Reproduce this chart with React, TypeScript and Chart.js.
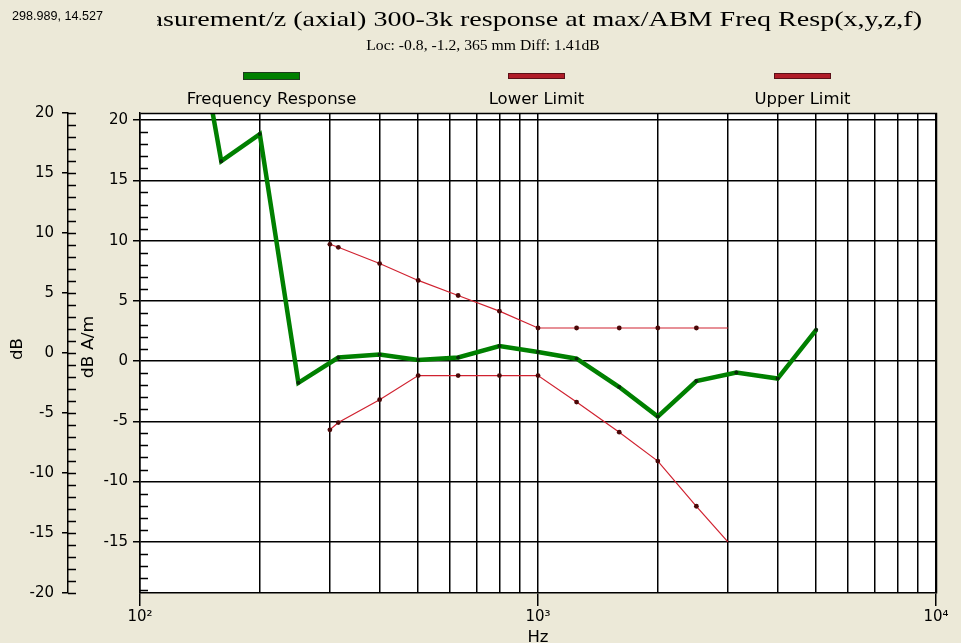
import React, { useEffect, useRef } from 'react';
import { Chart, registerables } from 'chart.js';

Chart.register(...registerables);

// ---------- data ----------
const responseFreqs = [125, 160, 200, 250, 315, 400, 500, 630, 800, 1000, 1250, 1600, 2000, 2500, 3150, 4000, 5000];
const responseDb = [36.5, 16.6, 18.85, -1.8, 0.3, 0.55, 0.1, 0.3, 1.25, 0.75, 0.2, -2.15, -4.6, -1.65, -0.95, -1.45, 2.6];

const limitFreqs = [300, 315, 400, 500, 630, 800, 1000, 1250, 1600, 2000, 2500, 3000];
const lowerLimitDb = [-5.7, -5.1, -3.2, -1.2, -1.2, -1.2, -1.2, -3.4, -5.9, -8.3, -12.05, -15];
const upperLimitDb = [9.7, 9.45, 8.1, 6.7, 5.45, 4.15, 2.75, 2.75, 2.75, 2.75, 2.75, 2.75];

const xGridFreqs = [100, 200, 300, 400, 500, 600, 700, 800, 900, 1000, 2000, 3000, 4000, 5000, 6000, 7000, 8000, 9000, 10000];
const xTickLabels: Record<number, string> = { 100: '10²', 1000: '10³', 10000: '10⁴' };
const yInnerTicks = [-19, -18, -17, -16, -15, -14, -13, -12, -11, -10, -9, -8, -7, -6, -5, -4, -3, -2, -1, 0, 1, 2, 3, 4, 5, 6, 7, 8, 9, 10, 11, 12, 13, 14, 15, 16, 17, 18, 19, 20];
const yOuterTicks = [-20, ...yInnerTicks];

const legendLabels = ['Frequency Response', 'Lower Limit', 'Upper Limit'];
const titleText = 'Measurement/z (axial) 300-3k response at max/ABM Freq Resp(x,y,z,f)';
const titleVisible = 'surement/z (axial) 300-3k response at max/ABM Freq Resp(x,y,z,f)';
const subtitleText = 'Loc: -0.8, -1.2, 365 mm Diff: 1.41dB';
const cursorText = '298.989, 14.527';
const xTitle = 'Hz';
const yOuterTitle = 'dB';
const yInnerTitle = 'dB A/m';

// ---------- style ----------
const BG = '#ECE9D8';
const GREEN = '#008000';
const RED = '#d02230';
const SANS = '"DejaVu Sans", sans-serif';
const SERIF = '"Liberation Serif", "Times New Roman", serif';
const GRID_W = 1.5;

const isMajor = (v: number) => Math.abs(v % 5) < 1e-9;

function drawText(ctx: CanvasRenderingContext2D, text: string, x: number, y: number, font: string, align: CanvasTextAlign, sx = 1, rot = 0, baseline: CanvasTextBaseline = 'alphabetic') {
  ctx.save();
  ctx.translate(x, y);
  if (rot) ctx.rotate(rot);
  ctx.scale(sx, 1);
  ctx.font = font;
  ctx.textAlign = align;
  ctx.textBaseline = baseline;
  ctx.fillStyle = '#000';
  ctx.fillText(text, 0, 0);
  ctx.restore();
}

const decorPlugin = {
  id: 'decor',
  beforeDraw(chart: any) {
    const { ctx, chartArea: a, width, height } = chart;
    ctx.save();
    ctx.fillStyle = BG;
    ctx.fillRect(0, 0, width, height);
    ctx.fillStyle = '#ffffff';
    ctx.fillRect(a.left, a.top, a.right - a.left, a.bottom - a.top);
    ctx.restore();
  },
  afterDraw(chart: any) {
    const { ctx, chartArea: a } = chart;
    const yi = chart.scales.y;
    const yo = chart.scales.y2;
    const xs = chart.scales.x;
    ctx.save();
    ctx.strokeStyle = '#000';
    ctx.lineWidth = GRID_W;
    const L = Math.round(a.left) + 0.5;
    const R = Math.round(a.right) + 0.5;
    const T = Math.round(a.top) + 0.5;
    const B = Math.round(a.bottom) + 0.5;
    ctx.beginPath();
    ctx.moveTo(L, T);
    ctx.lineTo(R, T);
    ctx.lineTo(R, B);
    ctx.stroke();

    // minor ticks on inner axis (inside plot)
    ctx.lineWidth = 1.3;
    ctx.beginPath();
    for (const v of yInnerTicks) {
      if (isMajor(v)) continue;
      const py = Math.round(yi.getPixelForValue(v)) + 0.5;
      ctx.moveTo(a.left, py);
      ctx.lineTo(a.left + 8, py);
    }
    // ticks on outer axis, right side
    const ox = Math.round(yo.right);
    for (const v of yOuterTicks) {
      const py = Math.round(yo.getPixelForValue(v)) + 0.5;
      ctx.moveTo(ox, py);
      ctx.lineTo(ox + 8, py);
    }
    ctx.stroke();
    ctx.restore();

    // title (clipped at left, like the original)
    ctx.save();
    ctx.beginPath();
    ctx.rect(157, 0, 961, 40);
    ctx.clip();
    ctx.font = `21px ${SERIF}`;
    const vis = ctx.measureText(titleVisible).width;
    const tsx = (922 - 163) / vis;
    drawText(ctx, titleText, 922, 26, `21px ${SERIF}`, 'right', tsx);
    ctx.restore();

    // cursor readout
    drawText(ctx, cursorText, 12, 20, `12px "Liberation Sans", Arial, sans-serif`, 'left', 1.05);
    // subtitle
    drawText(ctx, subtitleText, 483, 50, `14px ${SERIF}`, 'center', 1.12);

    // legend
    const centers = [271.5, 536.5, 802.5];
    const colors = [GREEN, '#b01c28', '#b01c28'];
    const heights = [8, 6, 6];
    ctx.save();
    legendLabels.forEach((lab, i) => {
      const cx = centers[i];
      const h = heights[i];
      ctx.fillStyle = colors[i];
      ctx.fillRect(cx - 28.5, 76 - h / 2, 57, h);
      ctx.strokeStyle = i === 0 ? '#1e3a1e' : '#5a1018';
      ctx.lineWidth = 1;
      ctx.strokeRect(cx - 28.5 + 0.5, 76 - h / 2 + 0.5, 56, h - 1);
      drawText(ctx, lab, cx, 104, `15px ${SANS}`, 'center', 1.1);
    });
    ctx.restore();

    // axis titles
    drawText(ctx, yOuterTitle, 18, (a.top + a.bottom) / 2 - 4, `15px ${SANS}`, 'center', 1.1, -Math.PI / 2, 'middle');
    drawText(ctx, yInnerTitle, 89, (a.top + a.bottom) / 2 - 6, `15px ${SANS}`, 'center', 1.15, -Math.PI / 2, 'middle');
    drawText(ctx, xTitle, (xs.left + xs.right) / 2, 642, `15px ${SANS}`, 'center', 1.1);
  },
};

export default function App() {
  const ref = useRef<HTMLCanvasElement | null>(null);

  useEffect(() => {
    document.body.style.margin = '0';
    const canvas = ref.current;
    if (!canvas) return;

    const tickFont = { family: SANS, size: 15 };

    const chart = new Chart(canvas, {
      type: 'line',
      data: {
        datasets: [
          {
            label: legendLabels[0],
            data: responseFreqs.map((f, i) => ({ x: f, y: responseDb[i] })),
            borderColor: GREEN,
            borderWidth: 4.5,
            pointRadius: 2,
            pointBackgroundColor: '#0a2a0a',
            pointBorderColor: '#0a2a0a',
            pointBorderWidth: 0,
            tension: 0,
            yAxisID: 'y',
            order: 0,
          },
          {
            label: legendLabels[1],
            data: limitFreqs.map((f, i) => ({ x: f, y: lowerLimitDb[i] })),
            borderColor: RED,
            borderWidth: 1.2,
            pointRadius: (c: any) => (c.dataIndex === limitFreqs.length - 1 ? 0 : 2.4),
            pointBackgroundColor: '#4a0808',
            pointBorderColor: '#4a0808',
            pointBorderWidth: 0,
            tension: 0,
            yAxisID: 'y',
            order: 1,
          },
          {
            label: legendLabels[2],
            data: limitFreqs.map((f, i) => ({ x: f, y: upperLimitDb[i] })),
            borderColor: RED,
            borderWidth: 1.2,
            pointRadius: (c: any) => (c.dataIndex === limitFreqs.length - 1 ? 0 : 2.4),
            pointBackgroundColor: '#4a0808',
            pointBorderColor: '#4a0808',
            pointBorderWidth: 0,
            tension: 0,
            yAxisID: 'y',
            order: 2,
          },
        ],
      },
      options: {
        responsive: false,
        animation: false,
        devicePixelRatio: 1,
        events: [],
        layout: { padding: { top: 113, right: 25, left: 0, bottom: 0 } },
        plugins: {
          legend: { display: false },
          title: { display: false },
          tooltip: { enabled: false },
        },
        scales: {
          x: {
            type: 'logarithmic',
            position: 'bottom',
            min: 100,
            max: 10000,
            afterBuildTicks: (s: any) => {
              s.ticks = xGridFreqs.map((v) => ({ value: v }));
            },
            afterFit: (s: any) => {
              s.height = 50;
              s.paddingLeft = 0;
              s.paddingRight = 0;
            },
            grid: {
              color: '#000',
              lineWidth: GRID_W,
              drawTicks: true,
              tickLength: 13,
              tickColor: (c: any) => (xTickLabels[c.tick?.value] ? '#000' : 'rgba(0,0,0,0)'),
            },
            border: { display: true, color: '#000', width: GRID_W },
            ticks: {
              autoSkip: false,
              maxRotation: 0,
              minRotation: 0,
              padding: 2,
              color: '#000',
              font: tickFont,
              callback: (v: any) => xTickLabels[Number(v)] ?? '',
            },
          },
          y: {
            type: 'linear',
            position: 'left',
            weight: 0,
            min: -19.25,
            max: 20.6,
            afterBuildTicks: (s: any) => {
              s.ticks = yInnerTicks.map((v) => ({ value: v }));
            },
            afterFit: (s: any) => {
              s.width = 72;
              s.paddingTop = 0;
              s.paddingBottom = 0;
            },
            grid: {
              color: (c: any) => (isMajor(c.tick?.value ?? 1) ? '#000' : 'rgba(0,0,0,0)'),
              lineWidth: GRID_W,
              drawTicks: true,
              tickLength: 7,
              tickColor: (c: any) => (isMajor(c.tick?.value ?? 1) ? '#000' : 'rgba(0,0,0,0)'),
            },
            border: { display: true, color: '#000', width: GRID_W },
            ticks: {
              autoSkip: false,
              padding: 5,
              color: '#000',
              font: tickFont,
              callback: (v: any) => (isMajor(Number(v)) ? String(v) : ''),
            },
          },
          y2: {
            type: 'linear',
            position: 'left',
            weight: 10,
            min: -20,
            max: 20,
            afterBuildTicks: (s: any) => {
              s.ticks = yOuterTicks.map((v) => ({ value: v }));
            },
            afterFit: (s: any) => {
              s.width = 68;
              s.paddingTop = 0;
              s.paddingBottom = 0;
            },
            grid: {
              drawOnChartArea: false,
              drawTicks: true,
              tickLength: 6,
              lineWidth: GRID_W,
              tickColor: (c: any) => (isMajor(c.tick?.value ?? 1) ? '#000' : 'rgba(0,0,0,0)'),
            },
            border: { display: true, color: '#000', width: GRID_W },
            ticks: {
              autoSkip: false,
              padding: 8,
              color: '#000',
              font: tickFont,
              callback: (v: any) => (isMajor(Number(v)) ? String(v) : ''),
            },
          },
        },
      } as any,
      plugins: [decorPlugin],
    });

    return () => chart.destroy();
  }, []);

  return (
    <div style={{ width: 961, height: 643 }}>
      <canvas ref={ref} width={961} height={643} style={{ display: 'block', width: 961, height: 643 }} />
    </div>
  );
}
